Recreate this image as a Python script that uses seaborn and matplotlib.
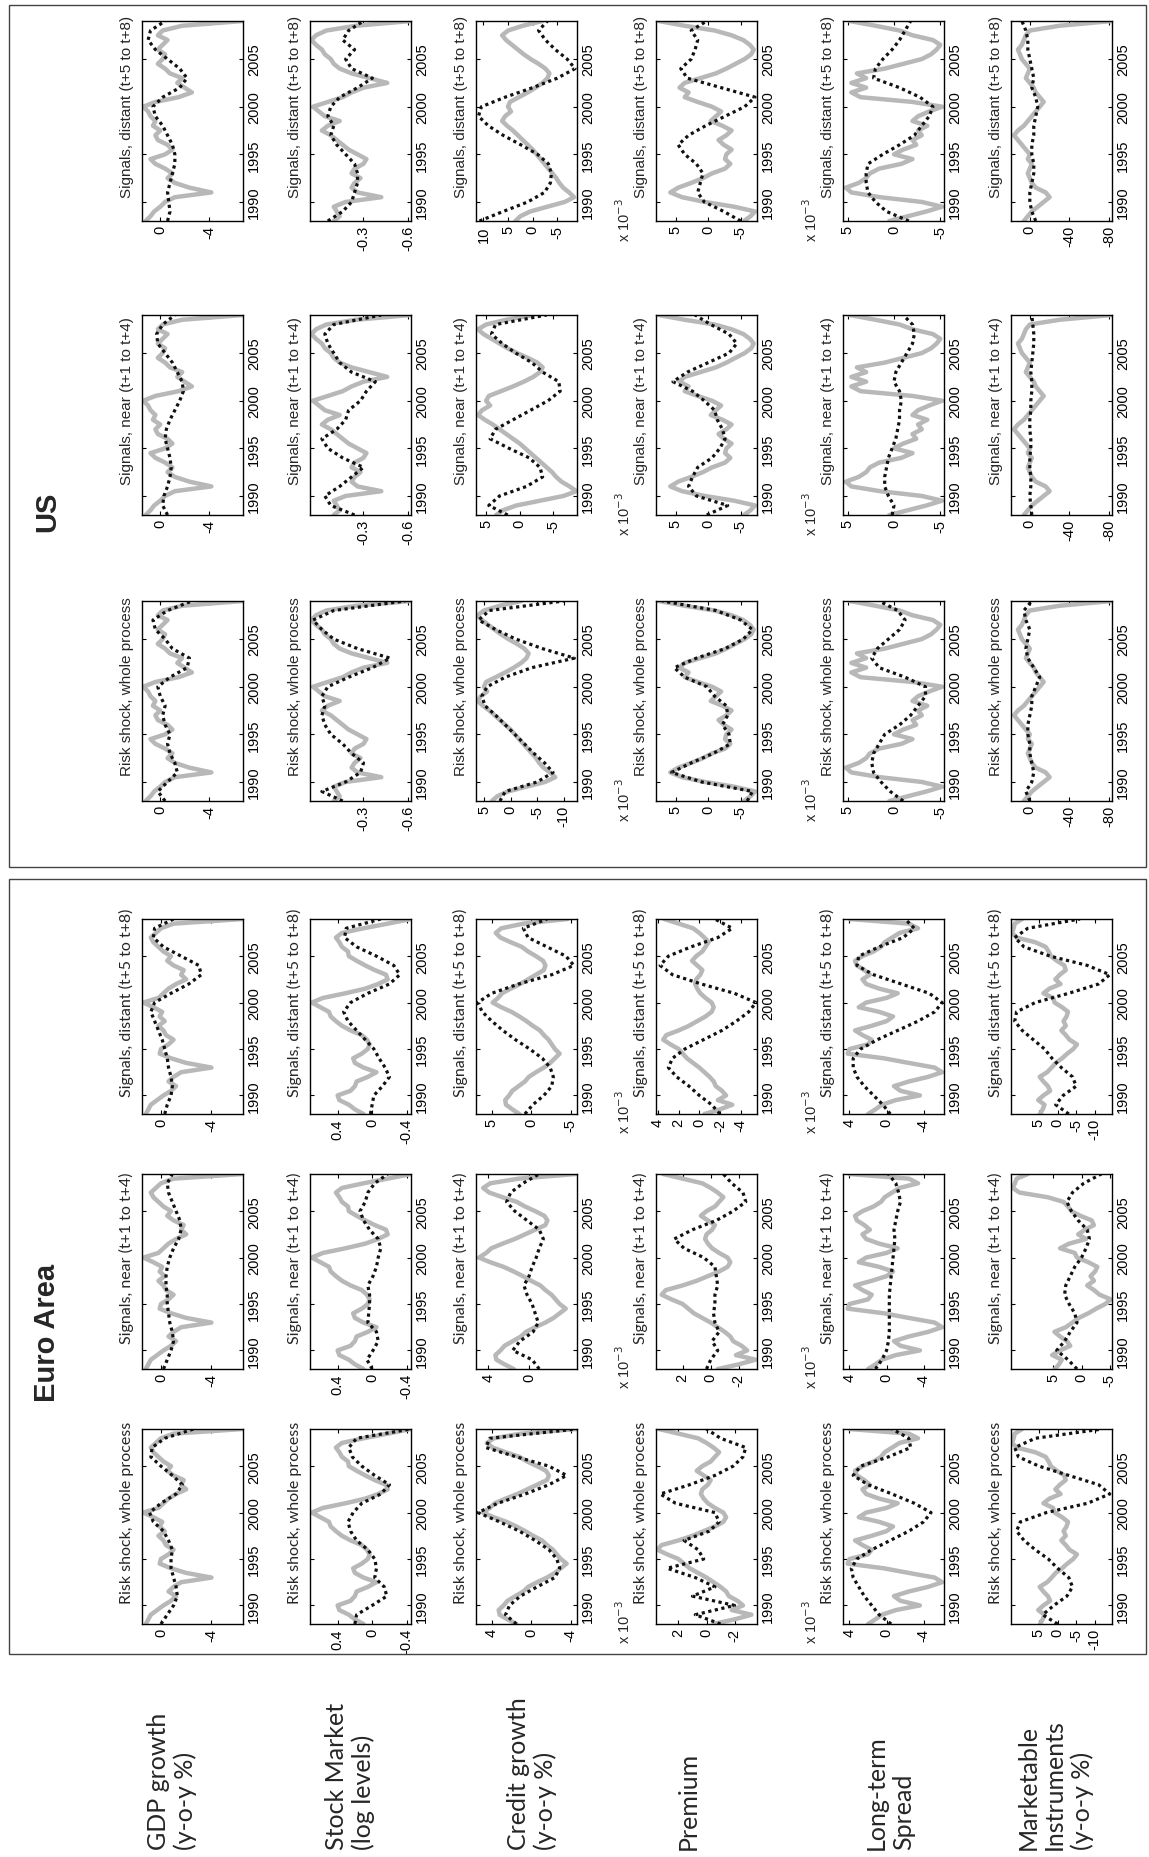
import numpy as np
import matplotlib
matplotlib.use("Agg")
import matplotlib.pyplot as plt
import matplotlib.patches as mpatches
import seaborn as sns

# =====================================================
# data
# =====================================================
years_half = np.arange(1988.0, 2009.01, 0.5)   # observed series, half-yearly
years_annual = np.arange(1988, 2010)           # model signals, yearly
year_ticks = [1990, 1995, 2000, 2005]

variables = ["gdp", "stock", "credit", "premium", "spread", "market"]
row_labels = ["GDP growth\n(y-o-y %)", "Stock Market\n(log levels)", "Credit growth\n(y-o-y %)",
              "Premium", "Long-term\nSpread", "Marketable\nInstruments\n(y-o-y %)"]
col_titles = ["Risk shock, whole process", "Signals, near (t+1 to t+4)", "Signals, distant (t+5 to t+8)"]

# ---- Euro Area: grey = data, dotted = whole / near / distant ----
ea_gdp_data = [1.2, 1.0, 0.8, 0.3, -0.2, -0.8, -1.2, -0.6, -1.0, -1.6, -4.0, -2.0, -0.8, 0.1, 0.0, -0.6,
               -1.0, -0.4, -0.2, 0.2, -0.3, 0.1, -0.1, 0.6, 1.4, 0.2, -0.2, -0.6, -1.2, -2.0, -1.6, -1.8,
               -1.0, -0.5, -0.8, -0.2, 0.2, 0.6, 0.8, 0.4, 0.0, -1.0, -6.5]
ea_gdp_whole = [0.0, -0.5, -1.0, -1.3, -1.2, -1.0, -0.8, -0.8, -0.9, -0.6, -0.2, 0.6, 0.9, 0.0, -1.2, -1.7,
                -0.9, 0.0, 0.8, 0.7, -0.3, -2.6]
ea_gdp_near = [-0.2, -0.5, -0.8, -1.0, -0.9, -0.7, -0.6, -0.5, -0.5, -0.4, -0.4, -0.5, -0.7, -1.0, -1.4, -1.6,
               -1.5, -1.2, -0.9, -0.6, -0.5, -0.9]
ea_gdp_distant = [-0.3, -0.5, -0.8, -0.9, -0.8, -0.6, -0.5, -0.3, -0.1, 0.2, 0.5, 0.8, 0.5, -0.8, -2.2, -3.2,
                  -3.0, -1.6, -0.2, 0.6, 0.5, -1.0]

ea_stock_data = [0.10, 0.20, 0.27, 0.38, 0.40, 0.25, 0.20, 0.18, 0.05, -0.05, 0.10, 0.20, 0.22, 0.12, 0.05,
                 0.03, 0.06, 0.12, 0.25, 0.35, 0.42, 0.48, 0.50, 0.60, 0.70, 0.57, 0.31, 0.08, -0.07, -0.18,
                 -0.16, -0.03, 0.08, 0.18, 0.27, 0.28, 0.35, 0.38, 0.42, 0.35, 0.10, -0.18, -0.45]
ea_stock_whole = [0.2, 0.18, 0.0, -0.17, -0.14, -0.03, -0.05, -0.03, 0.05, 0.18, 0.25, 0.28, 0.22, 0.12, -0.1,
                  -0.2, -0.03, 0.12, 0.23, 0.27, 0.18, -0.45]
ea_stock_near = [0.0, 0.06, -0.01, -0.07, -0.05, 0.05, 0.04, 0.03, 0.03, 0.05, -0.01, -0.05, -0.07, -0.1, -0.07,
                 0.03, 0.1, 0.14, 0.08, 0.05, -0.03, -0.18]
ea_stock_distant = [0.02, 0.0, -0.02, -0.12, -0.2, -0.15, -0.08, -0.02, 0.08, 0.18, 0.28, 0.33, 0.25, 0.05, -0.2,
                    -0.32, -0.25, -0.05, 0.18, 0.32, 0.3, -0.1]

ea_credit_data = [1.5, 2.4, 3.2, 3.3, 2.8, 2.4, 1.6, 0.8, 0.3, -0.6, -1.6, -2.4, -3.0, -3.6, -3.0, -2.6, -2.2,
                  -1.6, -1.1, -0.2, 0.6, 1.5, 2.5, 3.8, 4.9, 4.2, 3.7, 2.6, 1.4, 0.4, -0.6, -1.6, -1.8, -1.5,
                  -0.6, 0.4, 1.2, 2.6, 3.9, 4.5, 3.8, 1.0, -4.6]
ea_credit_whole = [1.5, 2.6, 2.2, 1.1, -0.6, -2.4, -2.9, -2.6, -1.8, -0.4, 1.2, 3.2, 5.4, 3.4, 0.6, -1.8, -3.6,
                   -1.8, 1.5, 4.6, 4.2, -4.6]
ea_credit_near = [-1.0, -0.3, 1.6, 0.9, -0.4, -0.9, -0.6, -0.3, 0.2, 0.5, 0.0, -0.3, -0.7, -1.0, -1.4, -1.0, 0.2,
                  1.4, 2.2, 1.8, 0.6, -1.0]
ea_credit_distant = [0.8, -0.2, -1.6, -2.6, -2.8, -2.4, -1.4, 0.2, 2.0, 3.6, 5.0, 6.2, 6.8, 5.0, 1.6, -2.6, -5.4,
                     -4.4, -2.0, 0.4, 1.0, -2.0]

ea_premium_data = [-0.5, -2.0, -3.2, -1.8, -2.6, -2.2, -1.6, -1.4, -1.0, -0.5, 0.0, 0.6, 1.2, 1.6, 2.0, 2.8, 3.5,
                   3.2, 2.0, 1.0, 0.2, -0.6, -1.2, -1.4, -1.2, -0.6, -0.1, 0.2, 0.4, 0.3, -0.1, -0.3, 0.2, 0.7,
                   0.3, -0.3, -0.6, -0.9, -0.5, 0.0, 0.6, 2.0, 3.4]
ea_premium_whole = [-1.0, 0.8, -2.0, 1.0, -0.6, 0.8, 2.8, 0.2, 0.6, 1.6, -0.2, -0.9, -0.6, 2.2, 3.3, 1.2, -0.6,
                    -1.9, -2.6, -2.8, -1.0, 0.0]
ea_premium_near = [0.3, 0.0, -0.5, -0.1, -0.6, -0.3, -0.2, -0.3, -0.3, -0.5, -0.4, -0.3, 0.5, 1.9, 2.6, 1.3, -0.4,
                   -1.6, -2.5, -2.3, -1.5, -0.9]
ea_premium_distant = [-2.0, -1.2, 0.0, 1.0, 2.2, 3.0, 2.6, 1.4, -0.4, -2.2, -3.6, -4.8, -5.5, -3.4, -0.2, 2.6,
                      3.8, 3.0, 0.8, -1.8, -3.2, -1.5]

ea_spread_data = [2.0, 1.2, 0.5, -1.0, -3.6, -1.5, -0.8, -2.4, -4.5, -6.0, -5.2, -2.4, 0.3, 4.2, 4.0, 2.0, 1.6,
                  2.6, 3.4, 1.6, 0.0, -0.7, 0.8, 3.0, 2.2, 0.0, -1.2, 0.8, 2.2, 2.6, 1.8, 2.4, 3.2, 3.4, 2.6,
                  1.4, 0.6, 0.2, -0.6, -1.4, -3.4, -2.4, 4.0]
ea_spread_whole = [-0.5, 0.8, 1.6, 2.4, 3.0, 3.6, 3.8, 3.2, 1.6, -0.4, -2.4, -4.0, -4.8, -3.0, -0.6, 2.0, 3.6,
                   2.8, -0.2, -2.6, -2.4, -0.6]
ea_spread_near = [1.2, 0.5, 0.0, -0.2, -0.3, -0.3, -0.3, -0.3, -0.3, -0.4, -0.5, -0.6, -0.7, -0.8, -0.9, -0.8,
                  -1.0, -1.2, -1.5, -1.3, -1.0, -0.2]
ea_spread_distant = [-0.4, 0.4, 1.4, 2.4, 3.2, 3.6, 3.6, 2.8, 1.0, -1.2, -3.4, -5.2, -6.0, -4.6, -1.6, 1.4, 3.2,
                     3.0, 0.8, -1.8, -3.0, -2.0]

ea_market_data = [4.7, 4.0, 3.5, 5.2, 3.8, 2.0, 2.6, 3.8, 4.8, 2.8, 1.6, 0.5, -1.2, -2.6, -4.2, -5.2, -3.2, -2.2,
                  -1.0, -2.2, -1.6, -2.4, -2.8, -1.2, 0.8, 1.2, 3.8, 2.2, -0.8, 0.6, -0.6, -2.2, -1.8, 0.2, 1.8,
                  2.4, 3.2, 6.0, 11.0, 12.2, 11.8, 11.5, 9.5]
ea_market_whole = [0.0, 4.0, 1.0, -2.5, -4.0, -3.0, 0.0, 2.5, 6.0, 9.0, 11.0, 10.0, 3.0, -8.0, -14.0, -11.0, -3.0,
                   5.0, 10.5, 11.5, 6.0, -12.0]
ea_market_near = [0.8, 2.4, 4.4, 3.0, 2.0, 0.8, 1.2, 2.2, 3.0, 2.8, 2.0, 1.2, 0.0, -0.8, -1.4, -1.0, 0.6, 1.8, 2.6,
                  1.6, -0.4, -3.5]
ea_market_distant = [-3.0, 0.5, -1.5, -5.0, -4.0, -1.0, 1.5, 3.5, 6.5, 9.5, 11.5, 11.0, 6.0, -3.0, -11.0, -14.0,
                     -8.0, 2.0, 9.0, 11.5, 8.0, -6.0]

# ---- US ----
us_gdp_data = [1.2, 0.8, 0.5, 0.0, -0.4, -1.2, -4.2, -2.4, -1.2, -0.6, -1.0, -0.4, 0.4, 0.8, -0.4, -1.0, -0.6,
               0.2, 0.4, 0.0, 0.6, 0.4, 0.8, 1.0, 1.4, 0.4, -1.5, -2.6, -2.0, -1.4, -1.8, -0.8, -0.4, 0.2, -0.2,
               -0.4, 0.2, -0.2, -0.6, 0.2, -0.2, -1.8, -6.8]
us_gdp_whole = [-0.4, 0.2, -0.6, -1.4, -1.2, -0.8, -0.6, -0.8, -0.4, -0.2, -0.4, 0.0, 0.2, -0.8, -2.2, -2.4, -1.0,
                -0.4, 0.4, 0.6, -0.6, -2.6]
us_gdp_near = [-0.6, -0.2, -0.3, -0.6, -0.8, -0.9, -0.8, -0.6, -0.4, -0.5, -0.8, -1.2, -1.6, -1.9, -1.8, -1.4,
               -1.0, -0.4, 0.2, 0.3, -0.2, -1.2]
us_gdp_distant = [-0.6, -0.8, -0.7, -0.6, -0.8, -1.0, -1.2, -1.2, -1.0, -0.6, -0.2, 0.4, 0.6, -0.2, -1.6, -2.2,
                  -1.6, -0.6, 0.4, 1.0, 0.8, -0.4]

us_stock_data = [-0.10, -0.14, -0.12, -0.10, -0.18, -0.42, -0.26, -0.22, -0.24, -0.28, -0.22, -0.24, -0.30, -0.32,
                 -0.26, -0.20, -0.16, -0.12, -0.08, -0.02, -0.06, -0.14, -0.04, 0.00, 0.04, -0.06, -0.16, -0.22,
                 -0.30, -0.46, -0.34, -0.22, -0.14, -0.10, -0.08, -0.04, -0.02, 0.02, 0.05, 0.02, -0.05, -0.25,
                 -0.62]
us_stock_whole = [-0.16, -0.02, -0.18, -0.28, -0.30, -0.22, -0.16, -0.08, -0.04, -0.02, -0.04, -0.02, -0.06, -0.20,
                  -0.36, -0.48, -0.26, -0.10, -0.02, 0.04, -0.10, -0.58]
us_stock_near = [-0.24, -0.08, -0.04, -0.14, -0.22, -0.30, -0.16, -0.06, -0.02, -0.12, -0.18, -0.20, -0.28, -0.32,
                 -0.38, -0.22, -0.14, -0.10, -0.06, -0.04, -0.10, -0.42]
us_stock_distant = [-0.06, -0.16, -0.22, -0.24, -0.26, -0.26, -0.24, -0.18, -0.12, -0.08, -0.10, -0.06, -0.08,
                    -0.14, -0.26, -0.36, -0.22, -0.18, -0.24, -0.16, -0.20, -0.30]

us_credit_data = [3.5, 2.5, 0.5, -3.0, -6.5, -8.4, -7.4, -6.2, -5.4, -4.8, -4.0, -3.2, -2.4, -1.6, -0.8, 0.0, 1.0,
                  2.0, 3.0, 4.0, 5.2, 6.2, 5.6, 4.4, 5.0, 4.6, 2.8, 1.0, -0.6, -2.0, -3.0, -3.4, -2.6, -1.2, 0.4,
                  1.8, 3.0, 4.2, 5.4, 6.2, 5.0, 2.0, -2.0]
us_credit_whole = [2.0, 1.0, -5.0, -8.0, -6.4, -4.4, -2.6, -0.8, 1.0, 2.8, 4.8, 5.4, 4.4, 1.0, -4.0, -12.0, -6.0,
                   -1.0, 2.8, 6.0, 4.0, -10.0]
us_credit_near = [1.8, 4.6, 3.0, -1.0, -3.4, -3.0, -1.4, 1.6, 4.4, 3.6, 1.0, -1.6, -4.2, -6.0, -5.8, -3.4, -1.8,
                  0.6, 2.6, 4.2, 3.6, -4.0]
us_credit_distant = [10.8, 6.0, 1.0, -2.4, -3.6, -3.8, -3.2, -1.0, 2.4, 6.0, 9.0, 11.0, 10.4, 5.6, 0.0, -5.0, -8.6,
                     -7.0, -4.6, -2.6, -1.2, -3.0]

us_premium_data = [-5.5, -6.5, -7.2, -4.0, 0.5, 4.0, 5.8, 4.6, 2.6, 0.8, -0.6, -2.6, -3.4, -2.6, -2.8, -3.6, -2.4,
                   -1.6, -2.8, -3.6, -2.2, -0.4, -1.2, -2.0, -0.6, 1.6, 3.6, 3.0, 4.4, 3.6, 1.2, -1.2, -2.8, -4.2,
                   -5.6, -6.6, -7.0, -6.4, -5.4, -3.6, -1.0, 3.6, 7.6]
us_premium_whole = [-6.0, -6.8, 1.0, 5.6, 2.6, -0.8, -3.4, -3.2, -2.2, -3.0, -2.8, -1.0, 0.2, 3.6, 5.2, 1.8, -2.6,
                    -5.4, -6.8, -5.0, -1.2, 7.0]
us_premium_near = [0.2, -3.0, 1.8, 3.0, 2.4, 1.6, -0.6, -1.8, -2.6, -2.2, -1.4, -1.0, 0.6, 2.4, 5.4, 3.2, 0.0,
                   -3.2, -4.4, -3.2, -0.4, 2.0]
us_premium_distant = [-5.0, -2.4, 0.6, 1.6, 1.2, 0.8, 1.8, 3.6, 4.6, 3.0, 0.4, -2.6, -5.6, -7.2, -2.0, 3.2, 4.2,
                      2.6, 2.0, 1.6, 2.6, 0.2]

us_spread_data = [0.5, -1.5, -3.5, -5.2, -3.0, 1.5, 4.6, 5.2, 3.8, 3.0, 2.6, 1.6, -0.8, -2.0, 0.0, -1.0, -2.4,
                  -2.0, -3.0, -2.6, -3.6, -2.0, -2.6, -3.8, -5.2, -2.0, 3.6, 4.6, 3.0, 4.6, 3.0, 4.0, 1.0, -1.0,
                  -3.0, -4.0, -4.6, -5.0, -4.2, -2.0, -0.6, 2.0, 4.8]
us_spread_whole = [-1.0, 0.4, 1.4, 2.2, 2.4, 2.2, 1.6, 1.0, -0.6, -1.8, -2.6, -3.4, -3.4, -1.2, 1.6, 2.4, 1.8, 0.6,
                   -0.6, -1.2, -0.4, 1.6]
us_spread_near = [0.2, 0.0, 0.6, 1.0, 1.0, 0.8, 0.6, 0.2, -0.2, -0.4, -0.6, -0.6, -0.8, -0.6, 0.0, -0.2, -0.8,
                  -1.4, -2.0, -2.2, -2.0, -1.0]
us_spread_distant = [-1.6, 0.8, 2.0, 2.8, 3.0, 3.0, 2.8, 1.2, -0.6, -2.2, -3.0, -3.8, -4.2, -2.8, -0.6, 2.2, 2.0,
                     1.2, 0.2, -0.6, -1.2, -1.8]

us_market_data = [6, 2, -2, -8, -14, -20, -16, -6, -2, 0, 2, 0, -2, 2, 0, 4, 8, 12, 16, 12, 6, 2, -2, -6, -10,
                  -14, -10, -6, -4, 0, 4, 2, 0, 4, 8, 10, 12, 8, 6, 4, 0, -30, -83]
us_market_whole = [0, 4, -2, -4, -2, 0, 0, 2, 2, 0, -2, -2, -6, -10, -4, 2, 4, 2, 0, 4, 6, -2]
us_market_near = [-2, -1, 0, -1, -1, 0, 0, -1, -1, 0, 0, -1, -1, -2, -2, -1, -2, -3, -4, -4, -3, -2]
us_market_distant = [-6, -2, 0, 0, -2, -4, -4, -2, -2, -4, -4, -6, -8, -6, -2, -4, -2, 0, 2, 2, 4, 8]

# value-axis ticks and limits (left = max, right = min), order: whole, near, distant
ea_ticks = {"gdp": [[0, -4]] * 3,
            "stock": [[0.4, 0, -0.4]] * 3,
            "credit": [[4, 0, -4], [4, 0], [5, 0, -5]],
            "premium": [[2, 0, -2], [2, 0, -2], [4, 2, 0, -2, -4]],
            "spread": [[4, 0, -4]] * 3,
            "market": [[5, 0, -5, -10], [5, 0, -5], [5, 0, -5, -10]]}
ea_lims = {"gdp": [(1.5, -6.5)] * 3,
           "stock": [(0.72, -0.45)] * 3,
           "credit": [(5.6, -4.65), (5.2, -4.7), (7.0, -5.8)],
           "premium": [(3.6, -3.6), (3.9, -3.3), (4.2, -5.6)],
           "spread": [(4.7, -6.2)] * 3,
           "market": [(12.5, -14.6), (12.5, -5.4), (12.5, -14.6)]}
us_ticks = {"gdp": [[0, -4]] * 3,
            "stock": [[-0.3, -0.6]] * 3,
            "credit": [[5, 0, -5, -10], [5, 0, -5], [10, 5, 0, -5]],
            "premium": [[5, 0, -5]] * 3,
            "spread": [[5, 0, -5]] * 3,
            "market": [[0, -40, -80]] * 3}
us_lims = {"gdp": [(1.5, -6.8)] * 3,
           "stock": [(0.06, -0.62)] * 3,
           "credit": [(6.5, -12.5), (6.5, -8.5), (11.5, -9.0)],
           "premium": [(8.0, -7.5)] * 3,
           "spread": [(5.5, -5.4)] * 3,
           "market": [(19, -83)] * 3}
scaled_vars = ["premium", "spread"]   # shown in units of 10^-3

g = globals()
series = {}
for reg in ["ea", "us"]:
    for v in variables:
        series[(reg, v)] = (g[f"{reg}_{v}_data"],
                            [g[f"{reg}_{v}_whole"], g[f"{reg}_{v}_near"], g[f"{reg}_{v}_distant"]])

# =====================================================
# figure
# =====================================================
sns.set_style("ticks", {"axes.edgecolor": "black", "xtick.color": "black", "ytick.color": "black"})
plt.rcParams["font.family"] = ["Liberation Sans", "DejaVu Sans"]

W, H = 1149, 1858
fig = plt.figure(figsize=(W / 100, H / 100), dpi=100)

col_left = [142, 310, 476, 656, 843, 1011]
label_x = [172, 350, 532, 688, 890, 1055]
panel_w = 101
layout = {
    "ea": dict(tops=[1430, 1175, 920], h=195, box=(9, 880, 1146, 1655), name_y=1333,
               tick_font=["Liberation Sans"], title_font=["Lato", "DejaVu Sans"], title_fs=11.5,
               fs=10.5, ticks=ea_ticks, lims=ea_lims, name="Euro Area"),
    "us": dict(tops=[602, 316, 22], h=200, box=(9, 6, 1146, 868), name_y=512,
               tick_font=["Liberation Sans Narrow", "Liberation Sans"],
               title_font=["Liberation Sans Narrow", "Liberation Sans"], title_fs=11,
               fs=10.5, ticks=us_ticks, lims=us_lims, name="US"),
}

GREY = "#b8b8b8"


def fmt(v):
    return f"{v:g}"


for reg, L in layout.items():
    for j, var in enumerate(variables):
        data, signals = series[(reg, var)]
        for k in range(3):
            x0, y0, h = col_left[j], L["tops"][k], L["h"]
            ax = fig.add_axes([x0 / W, 1 - (y0 + h) / H, panel_w / W, h / H])
            sns.lineplot(x=data, y=years_half, orient="y", sort=False, estimator=None,
                         color=GREY, lw=3.2, ax=ax)
            sns.lineplot(x=signals[k], y=years_annual, orient="y", sort=False, estimator=None,
                         color="#111111", lw=2.3, linestyle=(0, (1, 1.1)), ax=ax)
            ax.set_xlim(*L["lims"][var][k])
            ax.set_ylim(1988, 2009)
            ax.set_xlabel("")
            ax.set_ylabel("")
            ticks = L["ticks"][var][k]
            ax.yaxis.tick_right()
            ax.set_xticks(ticks, [fmt(t) for t in ticks], rotation=90, ha="center", va="top",
                          fontsize=L["fs"], family=L["tick_font"])
            ax.set_yticks(year_ticks, [str(y) for y in year_ticks], rotation=90, va="center",
                          fontsize=L["fs"], family=L["tick_font"])
            ax.tick_params(direction="in", length=3, width=0.8, pad=3,
                           top=True, bottom=True, left=True, right=True,
                           labelleft=False, labelright=True, labeltop=False, labelbottom=True)
            for s in ax.spines.values():
                s.set_linewidth(1.0)
            ax.text(-0.08, 0.575, col_titles[k], transform=ax.transAxes, rotation=90,
                    ha="right", va="center", fontsize=L["title_fs"], family=L["title_font"])
            if var in scaled_vars:
                ax.text(-0.32, -0.1, r"x 10$^{-3}$", transform=ax.transAxes, rotation=90,
                        ha="center", va="bottom", fontsize=L["fs"], family=L["tick_font"])

    bx0, by0, bx1, by1 = L["box"]
    fig.add_artist(mpatches.Rectangle((bx0 / W, 1 - by1 / H), (bx1 - bx0) / W, (by1 - by0) / H,
                                      transform=fig.transFigure, fill=False, ec="#444444", lw=1.0))
    fig.text(47 / W, 1 - L["name_y"] / H, L["name"], rotation=90, ha="center", va="center",
             fontsize=21, fontweight="bold", family=["Liberation Sans"])

# row labels along the bottom
for j, lab in enumerate(row_labels):
    fig.text(label_x[j] / W, 1 - 1850 / H, lab, rotation=90, ha="center", va="bottom",
             multialignment="left", fontsize=18, family=["Lato", "DejaVu Sans"], linespacing=1.2)

fig.savefig("out.png", dpi=100)
